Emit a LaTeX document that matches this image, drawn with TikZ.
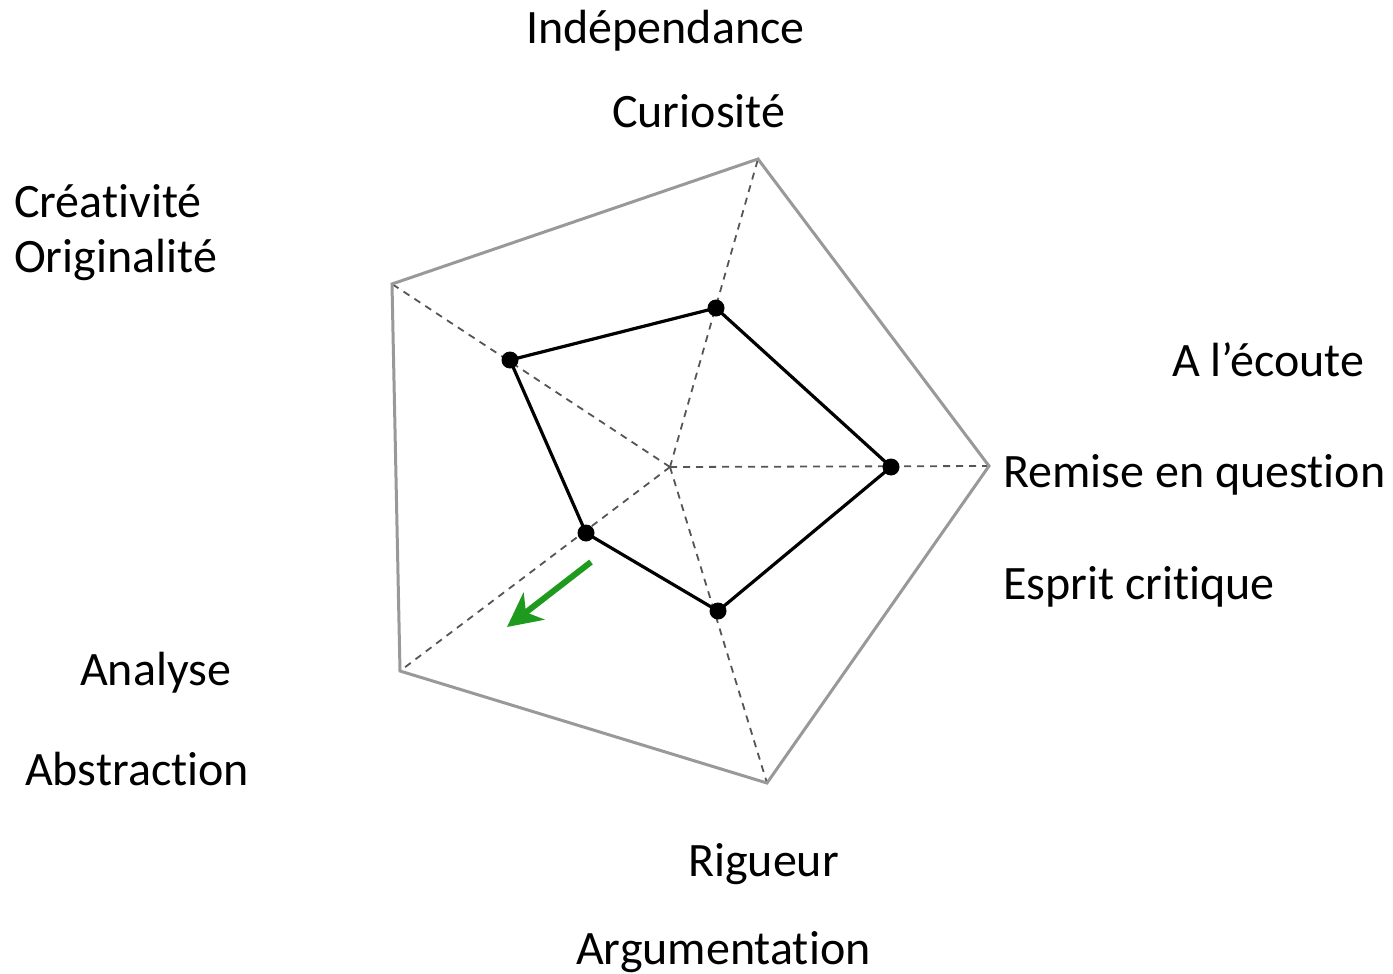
\documentclass[tikz,border=0pt]{standalone}
\usepackage{fontspec}
\setmainfont{Carlito}[Ligatures=NoCommon]
\usetikzlibrary{arrows.meta}
\definecolor{frame}{HTML}{999999}
\definecolor{spoke}{HTML}{555555}
\definecolor{arrowgreen}{HTML}{1E9A1E}
\tikzset{
  outline/.style={draw=frame, line width=3pt, line join=miter},
  spokeline/.style={draw=spoke, line width=1.8pt, dash pattern=on 7pt off 6pt},
  profile/.style={draw=black, line width=3.2pt, line join=round},
  dot/.style={circle, fill=black, inner sep=0pt, minimum size=17pt},
  lbl/.style={anchor=base west, inner sep=0pt, font=\fontsize{48}{58}\selectfont},
  trend/.style={draw=arrowgreen, line width=6pt, -{Stealth[length=34pt, width=34pt, inset=10pt]}}
}
\begin{document}
\begin{tikzpicture}[x=1pt, y=-1pt]
\useasboundingbox (0,0) rectangle (1393,974);

% centre and outer corners of the radar frame
\coordinate (C) at (670,467);
\coordinate (O1) at (758,159);
\coordinate (O2) at (989,466);
\coordinate (O3) at (767,783);
\coordinate (O4) at (400,671);
\coordinate (O5) at (392,284);

% dashed axes
\foreach \v in {O1,O2,O3,O4,O5}
  \draw[spokeline] (C) -- (\v);

% outer frame
\draw[outline] (O1) -- (O2) -- (O3) -- (O4) -- (O5) -- cycle;

% profile values
\coordinate (Q1) at (716,308);
\coordinate (Q2) at (891,467);
\coordinate (Q3) at (718,611);
\coordinate (Q4) at (586,533);
\coordinate (Q5) at (510,360);
\draw[profile] (Q1) -- (Q2) -- (Q3) -- (Q4) -- (Q5) -- cycle;
\foreach \q [count=\i] in {Q1,Q2,Q3,Q4,Q5}
  \node[dot] (P\i) at (\q) {};

% trend arrow
\coordinate (A1) at (591,562);
\coordinate (A2) at (507,627);
\draw[trend] (A1) -- (A2);

% axis labels
\node[lbl] (l1) at (526,44) {Indépendance};
\node[lbl] (l2) at (612,127) {Curiosité};
\node[lbl] (l3) at (14,217) {Créativité};
\node[lbl] (l4) at (14,272) {Originalité};
\node[lbl] (l5) at (1172,376) {A l’écoute};
\node[lbl] (l6) at (1003,487) {Remise en question};
\node[lbl] (l7) at (1003,599) {Esprit critique};
\node[lbl] (l8) at (80,685) {Analyse};
\node[lbl] (l9) at (25,785) {Abstraction};
\node[lbl] (l10) at (688,876) {Rigueur};
\node[lbl] (l11) at (576,964) {Argumentation};
\end{tikzpicture}
\end{document}
